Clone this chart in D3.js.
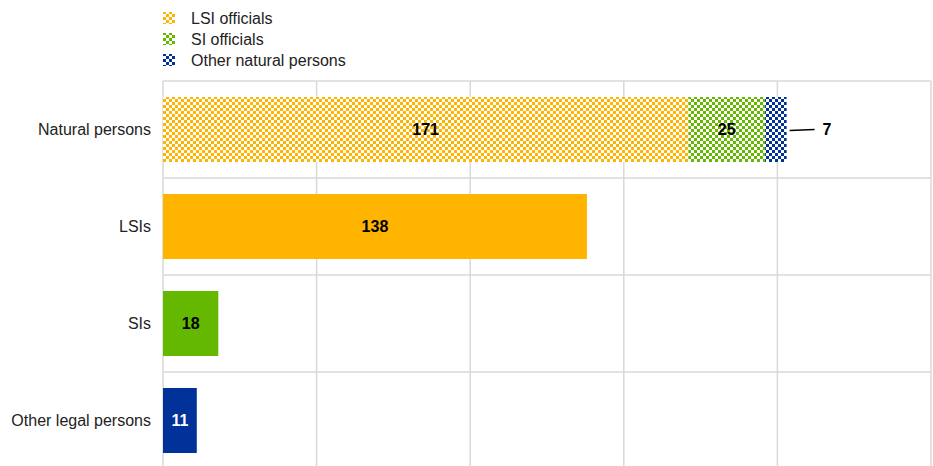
<!DOCTYPE html>
<html>
<head>
<meta charset="utf-8">
<script src="https://cdn.jsdelivr.net/npm/d3@7"></script>
<style>
  body { margin: 0; background: #fff; }
  text { font-family: "Liberation Sans", Arial, sans-serif; }
</style>
</head>
<body>
<div id="chart-area"></div>
<script>
// data
const categories = ["Natural persons", "LSIs", "SIs", "Other legal persons"]
const seriesNames = ["LSI officials", "SI officials", "Other natural persons"]
const naturalPersons = [171, 25, 7]
const legalValues = [138, 18, 11]
const xTicks = [0, 50, 100, 150, 200, 250]

const colors = ["#FFB400", "#65B800", "#003299"]

var cw = 933
var ch = 466
var m = {l: 163, t: 81, r: 2, b: -3}
var w = cw - m.l - m.r
var h = ch - m.t - m.b

var svg = d3.select("#chart-area").append("svg")
    .attr("width", cw)
    .attr("height", ch)

// checker patterns
var defs = svg.append("defs")
colors.forEach((c, i) => {
    const p = defs.append("pattern")
        .attr("id", "chk" + i)
        .attr("width", 6)
        .attr("height", 6)
        .attr("patternUnits", "userSpaceOnUse")
    p.append("rect").attr("width", 6).attr("height", 6).attr("fill", "#fff")
    p.append("rect").attr("x", 0).attr("y", 0).attr("width", 3).attr("height", 3).attr("fill", c)
    p.append("rect").attr("x", 3).attr("y", 3).attr("width", 3).attr("height", 3).attr("fill", c)
})

var g = svg.append("g").attr("transform", "translate(" + m.l + ", " + m.t + ")")

var x = d3.scaleLinear()
    .domain([0, 250])
    .range([0, w])

var y = d3.scaleBand()
    .domain(categories)
    .range([0, h])
    .paddingInner(0.33)
    .paddingOuter(0.165)

// grid
g.selectAll(".vgrid")
    .data(xTicks)
    .enter()
    .append("line")
    .attr("class", "vgrid")
    .attr("x1", d => x(d))
    .attr("x2", d => x(d))
    .attr("y1", 0)
    .attr("y2", h)
    .attr("stroke", "#d9d9d9")
    .attr("stroke-width", 1.5)

var step = y.step()
g.selectAll(".hgrid")
    .data(d3.range(categories.length))
    .enter()
    .append("line")
    .attr("class", "hgrid")
    .attr("x1", 0)
    .attr("x2", x(250))
    .attr("y1", i => i * step)
    .attr("y2", i => i * step)
    .attr("stroke", "#d9d9d9")
    .attr("stroke-width", 1.5)

// category labels
g.selectAll(".cat")
    .data(categories)
    .enter()
    .append("text")
    .attr("class", "cat")
    .attr("x", -12)
    .attr("y", d => y(d) + y.bandwidth() / 2)
    .attr("dy", "0.35em")
    .attr("text-anchor", "end")
    .attr("font-size", "16px")
    .attr("fill", "#222")
    .text(d => d)

// stacked natural persons bar
let acc = 0
const stack = naturalPersons.map((v, i) => {
    const s = {v: v, x0: acc, x1: acc + v, i: i}
    acc += v
    return s
})

const yN = y(categories[0])
g.selectAll(".seg")
    .data(stack)
    .enter()
    .append("rect")
    .attr("class", "seg")
    .attr("x", d => x(d.x0))
    .attr("y", yN)
    .attr("width", d => x(d.x1) - x(d.x0))
    .attr("height", y.bandwidth())
    .attr("fill", d => "url(#chk" + d.i + ")")

g.selectAll(".seglab")
    .data(stack.slice(0, 2))
    .enter()
    .append("text")
    .attr("class", "seglab")
    .attr("x", d => (x(d.x0) + x(d.x1)) / 2)
    .attr("y", yN + y.bandwidth() / 2)
    .attr("dy", "0.35em")
    .attr("text-anchor", "middle")
    .attr("font-size", "16px")
    .attr("font-weight", "bold")
    .attr("fill", "#000")
    .text(d => d.v)

// leader label for small segment
const last = stack[2]
g.append("line")
    .attr("x1", x(last.x1) + 3)
    .attr("x2", x(last.x1) + 28)
    .attr("y1", yN + y.bandwidth() / 2 + 1)
    .attr("y2", yN + y.bandwidth() / 2)
    .attr("stroke", "#000")
    .attr("stroke-width", 1.5)
g.append("text")
    .attr("x", x(last.x1) + 36)
    .attr("y", yN + y.bandwidth() / 2)
    .attr("dy", "0.35em")
    .attr("font-size", "16px")
    .attr("font-weight", "bold")
    .text(last.v)

// single bars
const single = categories.slice(1).map((c, i) => ({cat: c, v: legalValues[i], i: i}))

g.selectAll(".bar")
    .data(single)
    .enter()
    .append("rect")
    .attr("class", "bar")
    .attr("x", 0)
    .attr("y", d => y(d.cat))
    .attr("width", d => x(d.v))
    .attr("height", y.bandwidth())
    .attr("fill", d => colors[d.i])

g.selectAll(".barlab")
    .data(single)
    .enter()
    .append("text")
    .attr("class", "barlab")
    .attr("x", d => x(d.v) / 2)
    .attr("y", d => y(d.cat) + y.bandwidth() / 2)
    .attr("dy", "0.35em")
    .attr("text-anchor", "middle")
    .attr("font-size", "16px")
    .attr("font-weight", "bold")
    .attr("fill", d => d.i == 2 ? "#fff" : "#000")
    .text(d => d.v)

// legend
const legend = svg.append("g")
    .attr("class", "legend")
    .attr("transform", "translate(163, 11)")

const legendItems = legend.selectAll(".legend-item")
    .data(seriesNames)
    .enter()
    .append("g")
    .attr("class", "legend-item")
    .attr("transform", (d, i) => `translate(0, ${i * 21})`)

legendItems.append("rect")
    .attr("x", 0)
    .attr("y", 1)
    .attr("width", 12)
    .attr("height", 12)
    .attr("fill", (d, i) => "url(#chk" + i + ")")

legendItems.append("text")
    .attr("x", 28)
    .attr("y", 7)
    .attr("dy", "0.35em")
    .attr("font-size", "16px")
    .attr("fill", "#222")
    .text(d => d)
</script>
</body>
</html>
